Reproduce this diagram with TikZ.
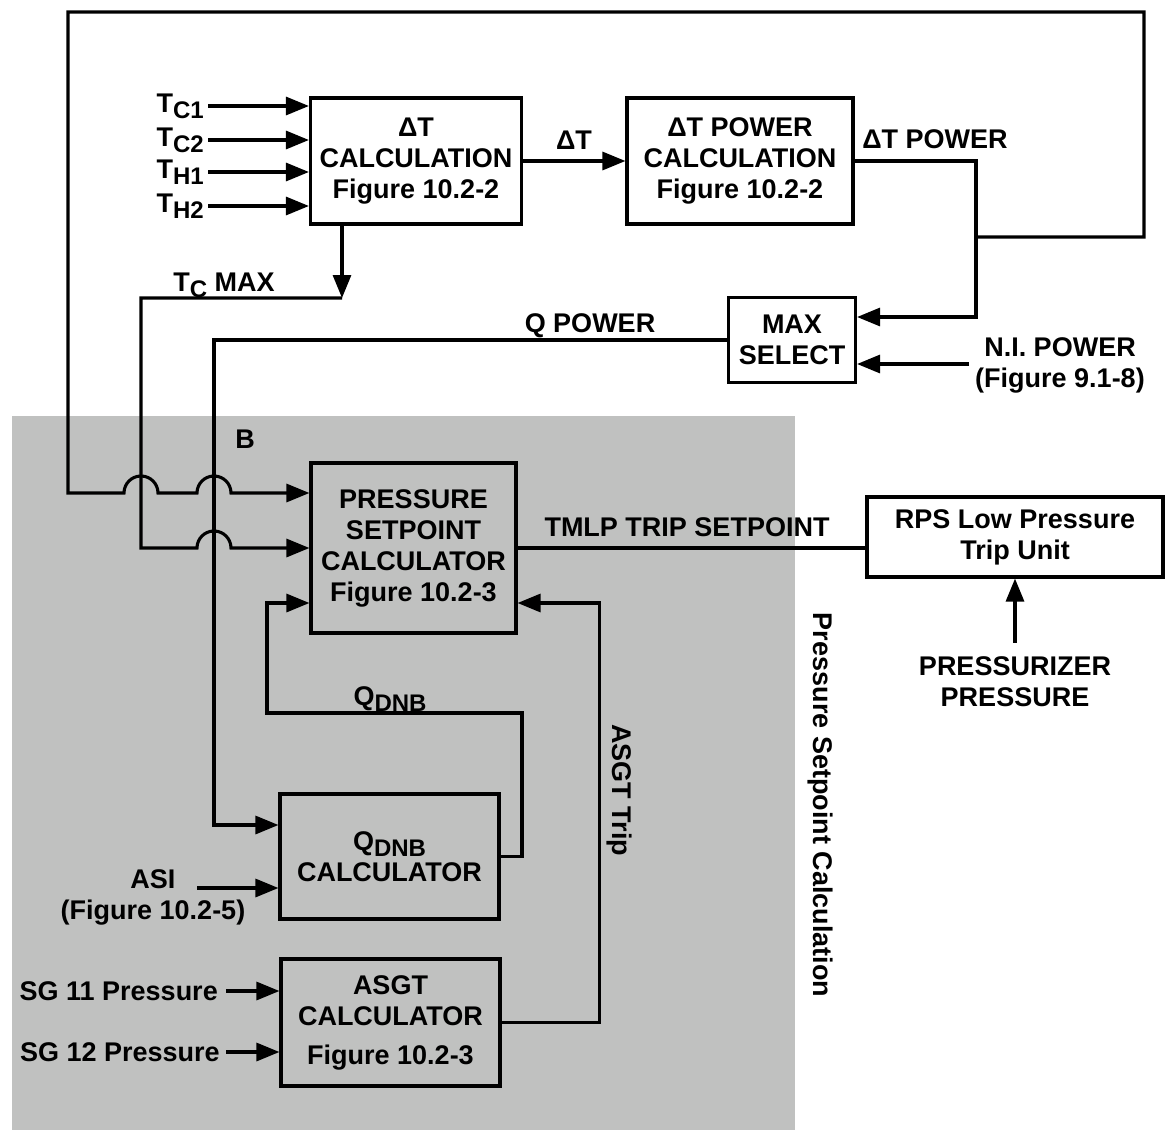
\documentclass[tikz,border=0pt]{standalone}
\usepackage{fontspec}
\setmainfont{Liberation Sans}
\usetikzlibrary{arrows.meta, positioning, calc}
\definecolor{psgrey}{RGB}{192,193,192}
\newcommand{\lowsub}[1]{\raisebox{-6pt}{\fontsize{24}{24}\selectfont #1}}

\tikzset{
  blk/.style={draw, line width=3.1pt, align=center, inner sep=0pt},
  lbl/.style={align=center, inner sep=0pt},
  wire/.style={line width=3.1pt},
  arr/.style={wire, -{Triangle[length=23pt,width=18pt]}},
}

\begin{document}
\begin{tikzpicture}[x=1pt, y=-1pt, every node/.style={font=\fontsize{27}{31}\selectfont\bfseries}]
  \useasboundingbox (0,0) rectangle (1165,1130);
  \fill[psgrey] (12,416) rectangle (795,1130);

  \node[blk, minimum width=211pt, minimum height=126pt] (dtcalc) at (416,161) {ΔT\\CALCULATION\\Figure 10.2-2};
  \node[blk, minimum width=226pt, minimum height=126pt] (dtpow) at (740,161) {ΔT POWER\\CALCULATION\\Figure 10.2-2};
  \node[blk, minimum width=127pt, minimum height=85pt] (maxsel) at (792,340) {MAX\\SELECT};
  \node[blk, minimum width=205pt, minimum height=170pt] (pscalc) at (413.5,548) {PRESSURE\\SETPOINT\\CALCULATOR\\Figure 10.2-3};
  \node[blk, minimum width=296pt, minimum height=80pt] (rps) at (1015,537) {RPS Low Pressure\\Trip Unit};
  \node[blk, minimum width=219pt, minimum height=125pt] (qdnbcalc) at (389.5,856.5) {Q\lowsub{DNB}\\CALCULATOR};
  \node[blk, minimum width=219pt, minimum height=127pt] (asgtcalc) at (390.5,1022.5) {ASGT\\CALCULATOR\\[8pt]Figure 10.2-3};

  \foreach \nm/\s/\y in {tca/C1/106, tcb/C2/140, tha/H1/172, thb/H2/206} {
    \node[lbl, anchor=east] (\nm) at (204,\y) {T\lowsub{\s}};
    \draw[arr] ([xshift=4pt]\nm.east) -- (\nm.east -| dtcalc.west);
  }

  \node[lbl] (dtlbl) at (574,140) {ΔT};
  \draw[arr] (dtcalc) -- (dtpow);

  % delta T power to max select and round the top
  \node[lbl] (dtplbl) at (935,139) {ΔT POWER};
  \coordinate (brk) at (976,237);
  \coordinate (topr) at (1144,12);
  \coordinate (topl) at (68,12);
  \draw[arr] (dtpow.east) -| (brk) |- ([yshift=23pt]maxsel.east);
  \draw[arr] (brk) -| (topr) -- (topl) |- (124,493)
    arc[start angle=180, end angle=0, radius=17pt] -- (197,493)
    arc[start angle=180, end angle=0, radius=17pt] -- ([yshift=55pt]pscalc.west);

  \node[lbl] (tcmlbl) at (224,285) {T\lowsub{C} MAX};
  \coordinate (tcm) at (342,298);
  \draw[arr] (tcm |- dtcalc.south) -- (tcm);
  \draw[arr] (tcm) -- (141,298) |- (197,548)
    arc[start angle=180, end angle=0, radius=17pt] -- (pscalc.west);

  \node[lbl] (nipow) at (1060,365) {N.I. POWER\\(Figure 9.1-8)};
  \coordinate (niin) at (969,364);
  \draw[arr] (niin) -- (niin -| maxsel.east);

  \node[lbl] (qplbl) at (590,326) {Q POWER};
  \coordinate (qp) at (214,825);
  \draw[arr] (maxsel.west) -| (qp) -- (qp -| qdnbcalc.west);

  \node[lbl] (blbl) at (245,439) {B};

  \node[lbl] (tmlbl) at (687,527) {TMLP TRIP SETPOINT};
  \draw[wire] (pscalc.east) -- (pscalc.east -| rps.west);

  \node[lbl] (przp) at (1015,682) {PRESSURIZER\\PRESSURE};
  \draw[arr] ([yshift=14pt]przp.north) -- (rps.south);

  % Q DNB feedback
  \node[lbl] (qdlbl) at (390,699) {Q\lowsub{DNB}};
  \coordinate (qfa) at (522,713);
  \coordinate (qfb) at (267,713);
  \draw[arr] (qdnbcalc.east) -| (qfa) -- (qfb) |- ([yshift=-55pt]pscalc.west);

  \node[lbl] (asi) at (153,897) {ASI\\(Figure 10.2-5)};
  \coordinate (asiin) at (197,888);
  \draw[arr] (asiin) -- (asiin -| qdnbcalc.west);

  \node[lbl, anchor=east] (sg11) at (218,991) {SG 11 Pressure};
  \node[lbl, anchor=east] (sg12) at (220,1052) {SG 12 Pressure};
  \draw[arr] ([xshift=8pt]sg11.east) -- (sg11.east -| asgtcalc.west);
  \draw[arr] ([xshift=6pt]sg12.east) -- (sg12.east -| asgtcalc.west);

  % ASGT trip back up
  \draw[arr] (asgtcalc.east) -| ([xshift=82pt,yshift=-55pt]pscalc.east) -- ([yshift=-55pt]pscalc.east);
  \node[lbl, rotate=-90] (asgtlbl) at (619,790) {ASGT Trip};
  \node[lbl, rotate=-90] (pslbl) at (820,805) {Pressure Setpoint Calculation};
\end{tikzpicture}
\end{document}
